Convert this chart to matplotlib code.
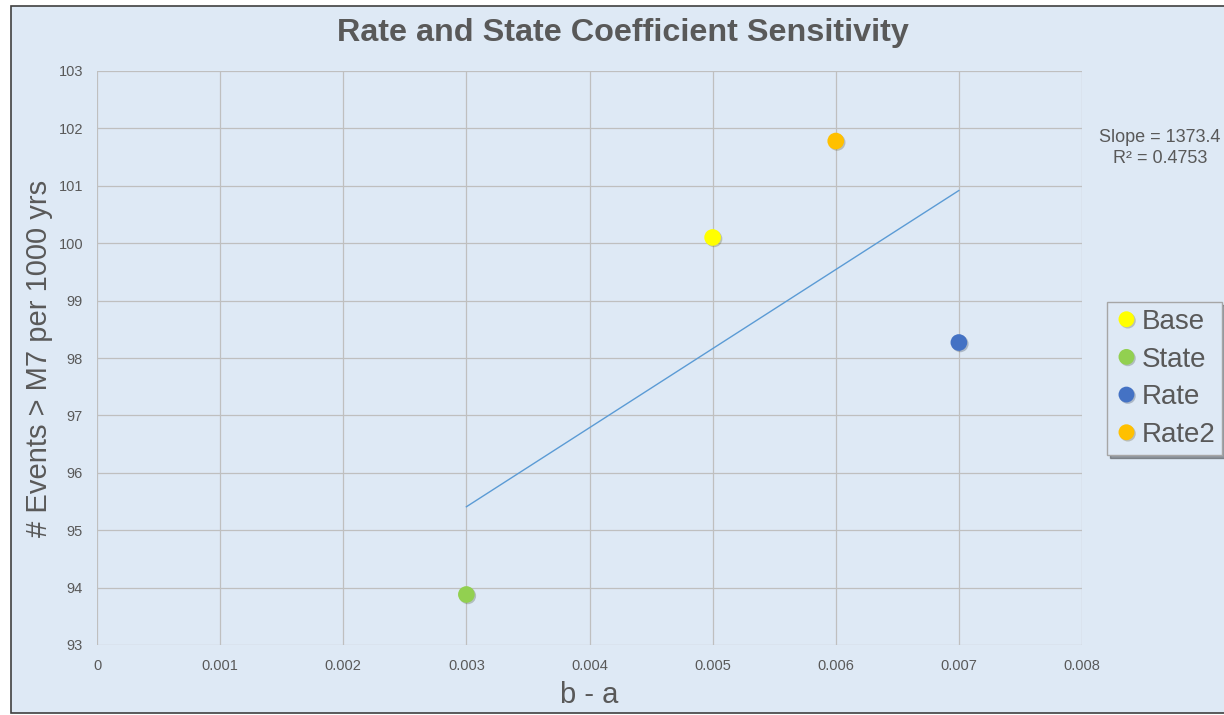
import matplotlib.pyplot as plt
import matplotlib.patheffects as pe
import numpy as np
from matplotlib.patches import Rectangle

# data
series = ["Base", "State", "Rate", "Rate2"]
x_vals = [0.005, 0.003, 0.007, 0.006]
y_vals = [100.1, 93.88, 98.27, 101.78]
colors = ["#ffff00", "#92d050", "#4472c4", "#ffc000"]
x_ticks = [0, 0.001, 0.002, 0.003, 0.004, 0.005, 0.006, 0.007, 0.008]
x_ticklabels = ["0", "0.001", "0.002", "0.003", "0.004", "0.005", "0.006", "0.007", "0.008"]
y_ticks = list(range(93, 104))

bg = "#dee9f5"
txt = "#595959"
plt.rcParams['font.family'] = ['Liberation Sans', 'DejaVu Sans']

fig = plt.figure(figsize=(12.24, 7.15), dpi=100, facecolor="white")
# chart area with dark border
fig.patches.append(Rectangle((11 / 1224, 0.003), 1.2, 1 - 6 / 715 - 0.003,
                             transform=fig.transFigure, facecolor=bg,
                             edgecolor="#404040", linewidth=1.2, zorder=-10))

ax = fig.add_axes([97 / 1224, 1 - 645 / 715, (1082 - 97) / 1224, (645 - 71) / 715])
ax.set_facecolor(bg)
ax.patch.set_alpha(0)

for xi, yi, c, name in zip(x_vals, y_vals, colors, series):
    ax.plot(xi, yi, 'o', color=c, markersize=12, markeredgewidth=0, label=name, zorder=4,
            path_effects=[pe.SimplePatchShadow(offset=(1, -1), alpha=0.25), pe.Normal()])

# linear trendline over data range
fit = np.polyfit(x_vals, y_vals, 1)
xl = np.array([min(x_vals), max(x_vals)])
ax.plot(xl, np.polyval(fit, xl), color="#5b9bd5", linewidth=1, zorder=3)

ax.set_xlim(0, 0.008)
ax.set_ylim(93, 103)
ax.set_xticks(x_ticks)
ax.set_xticklabels(x_ticklabels)
ax.set_yticks(y_ticks)
ax.grid(True, color="#bfbfbf", linewidth=0.9)
ax.set_axisbelow(True)
for s in ax.spines.values():
    s.set_visible(False)
ax.tick_params(length=0, labelsize=10.5, colors=txt, pad=10)
ax.tick_params(axis='y', pad=10)

ax.set_xlabel("b - a", fontsize=21, color=txt, labelpad=6)
ax.set_ylabel("# Events > M7 per 1000 yrs", fontsize=21, color=txt, labelpad=4)
fig.text(623 / 1224, 1 - 33 / 715, "Rate and State Coefficient Sensitivity",
         ha="center", va="center", fontsize=23.3, fontweight="bold", color=txt)

fig.text(1160 / 1224, 1 - 148 / 715, "Slope = 1373.4\nR² = 0.4753",
         ha="center", va="center", fontsize=13, color=txt, linespacing=1.3)

leg = fig.legend(loc="upper left", bbox_to_anchor=(1107 / 1224, 1 - 302 / 715),
                 fontsize=20, frameon=True, fancybox=False, shadow=True,
                 handletextpad=0.1, handlelength=0.9, borderpad=0.25,
                 labelspacing=0.42, borderaxespad=0, markerscale=0.95)
leg.get_frame().set_facecolor(bg)
leg.get_frame().set_edgecolor("#a6a6a6")
for t in leg.get_texts():
    t.set_color(txt)

fig.savefig("out.png", dpi=100, facecolor="white")
